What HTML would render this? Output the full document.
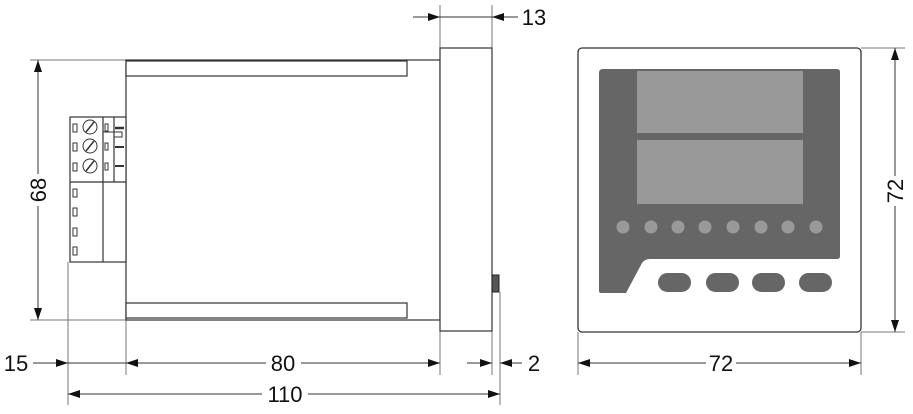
<!DOCTYPE html>
<html><head><meta charset="utf-8"><style>
html,body{margin:0;padding:0;background:#fff;}
svg{display:block;}
text{font-family:"Liberation Sans Narrow","Liberation Sans",sans-serif;font-size:22px;fill:#111;}
</style></head><body>
<svg width="913" height="414" viewBox="0 0 913 414" xmlns="http://www.w3.org/2000/svg">
<defs>
<marker id="a" viewBox="0 0 12 8" refX="12" refY="4" markerWidth="12" markerHeight="8" markerUnits="userSpaceOnUse" orient="auto"><path d="M0,0 L12,4 L0,8 Z" fill="#111"/></marker>
</defs>
<g stroke="#777" stroke-width="1" fill="none">
<line x1="30" y1="60" x2="126" y2="60"/>
<line x1="30" y1="320" x2="126" y2="320"/>
<line x1="440" y1="5" x2="440" y2="48"/>
<line x1="492" y1="5" x2="492" y2="48"/>
<line x1="68" y1="262" x2="68" y2="405"/>
<line x1="126" y1="320" x2="126" y2="375"/>
<line x1="440" y1="331" x2="440" y2="375"/>
<line x1="492" y1="331" x2="492" y2="375"/>
<line x1="500" y1="292" x2="500" y2="405"/>
<line x1="861" y1="48" x2="905" y2="48"/>
<line x1="861" y1="332" x2="905" y2="332"/>
<line x1="578" y1="332" x2="578" y2="375"/>
<line x1="861" y1="332" x2="861" y2="375"/>
</g>
<g stroke="#333" stroke-width="1.2" fill="#fff">
<rect x="126" y="60" width="314" height="260"/>
<rect x="126" y="61" width="281" height="15"/>
<rect x="126" y="303" width="281" height="15"/>
<rect x="440" y="48" width="52" height="283"/>
<rect x="70" y="117" width="56" height="145"/>
<line x1="70" y1="182" x2="126" y2="182"/>
<line x1="103" y1="117" x2="103" y2="262"/>
<line x1="114" y1="117" x2="114" y2="182"/>
</g>
<rect x="492" y="275" width="7" height="17" fill="#555" stroke="#222"/>
<g stroke="#333" stroke-width="1" fill="#fff">
<rect x="73" y="124" width="4" height="8"/><rect x="73" y="143" width="4" height="8"/><rect x="73" y="163" width="4" height="8"/>
<rect x="73" y="189" width="4" height="8"/><rect x="73" y="208" width="4" height="8"/><rect x="73" y="228" width="4" height="8"/><rect x="73" y="247" width="4" height="8"/>
<rect x="105" y="124" width="3" height="7"/><rect x="105" y="143" width="3" height="7"/><rect x="105" y="163" width="3" height="7"/>
<circle cx="90" cy="127" r="7"/><circle cx="90" cy="146" r="7"/><circle cx="90" cy="166" r="7"/>
<path d="M86,132 L94,122 M86,151 L94,141 M86,171 L94,161" stroke-width="1.5"/>
<path d="M103,132 L122,132 L122,137 L114,137" fill="none"/>
<line x1="115" y1="128" x2="124" y2="128" stroke-width="2.5"/>
<line x1="115" y1="147" x2="124" y2="147" stroke-width="2"/>
<line x1="115" y1="166" x2="124" y2="166" stroke-width="2"/>
</g>
<g stroke="#333" stroke-width="1" fill="none">
<line x1="38" y1="174" x2="38" y2="60" marker-end="url(#a)"/>
<line x1="38" y1="206" x2="38" y2="320" marker-end="url(#a)"/>
<line x1="413" y1="17" x2="440" y2="17" marker-end="url(#a)"/>
<line x1="440" y1="17" x2="492" y2="17"/>
<line x1="518" y1="17" x2="492" y2="17" marker-end="url(#a)"/>
<line x1="33" y1="363" x2="68" y2="363" marker-end="url(#a)"/>
<line x1="68" y1="363" x2="126" y2="363"/>
<line x1="266" y1="363" x2="126" y2="363" marker-end="url(#a)"/>
<line x1="301" y1="363" x2="440" y2="363" marker-end="url(#a)"/>
<line x1="467" y1="363" x2="492" y2="363" marker-end="url(#a)"/>
<line x1="522" y1="363" x2="500" y2="363" marker-end="url(#a)"/>
<line x1="262" y1="394" x2="68" y2="394" marker-end="url(#a)"/>
<line x1="308" y1="394" x2="500" y2="394" marker-end="url(#a)"/>
<line x1="706" y1="363" x2="578" y2="363" marker-end="url(#a)"/>
<line x1="736" y1="363" x2="861" y2="363" marker-end="url(#a)"/>
<line x1="895" y1="176" x2="895" y2="48" marker-end="url(#a)"/>
<line x1="895" y1="206" x2="895" y2="332" marker-end="url(#a)"/>
</g>
<text x="534" y="25" text-anchor="middle">13</text>
<text x="16" y="371" text-anchor="middle">15</text>
<text x="283" y="371" text-anchor="middle">80</text>
<text x="534" y="371" text-anchor="middle">2</text>
<text x="285" y="402" text-anchor="middle">110</text>
<text x="721" y="371" text-anchor="middle">72</text>
<text transform="translate(46,190) rotate(-90)" text-anchor="middle">68</text>
<text transform="translate(903,191) rotate(-90)" text-anchor="middle">72</text>
<rect x="578" y="48" width="283" height="284" rx="4" fill="#fff" stroke="#333" stroke-width="1.3"/>
<path d="M603,69 L837,69 Q840,69 840,72 L840,256 Q840,259 837,259 L650,259 Q645,259 642,263 L626,293 L601,293 Q599,293 599,291 L599,73 Q599,69 603,69 Z" fill="#666"/>
<rect x="637" y="71" width="166" height="62" fill="#999"/>
<rect x="637" y="140" width="166" height="64" fill="#999"/>
<g fill="#999">
<circle cx="623" cy="227" r="6.5"/><circle cx="651" cy="227" r="6.5"/><circle cx="678" cy="227" r="6.5"/><circle cx="705" cy="227" r="6.5"/>
<circle cx="733" cy="227" r="6.5"/><circle cx="761" cy="227" r="6.5"/><circle cx="788" cy="227" r="6.5"/><circle cx="816" cy="227" r="6.5"/>
</g>
<g fill="#666">
<rect x="658" y="273" width="33" height="19" rx="9.5"/>
<rect x="706" y="273" width="33" height="19" rx="9.5"/>
<rect x="752" y="273" width="33" height="19" rx="9.5"/>
<rect x="799" y="273" width="33" height="19" rx="9.5"/>
</g>
</svg>
</body></html>
